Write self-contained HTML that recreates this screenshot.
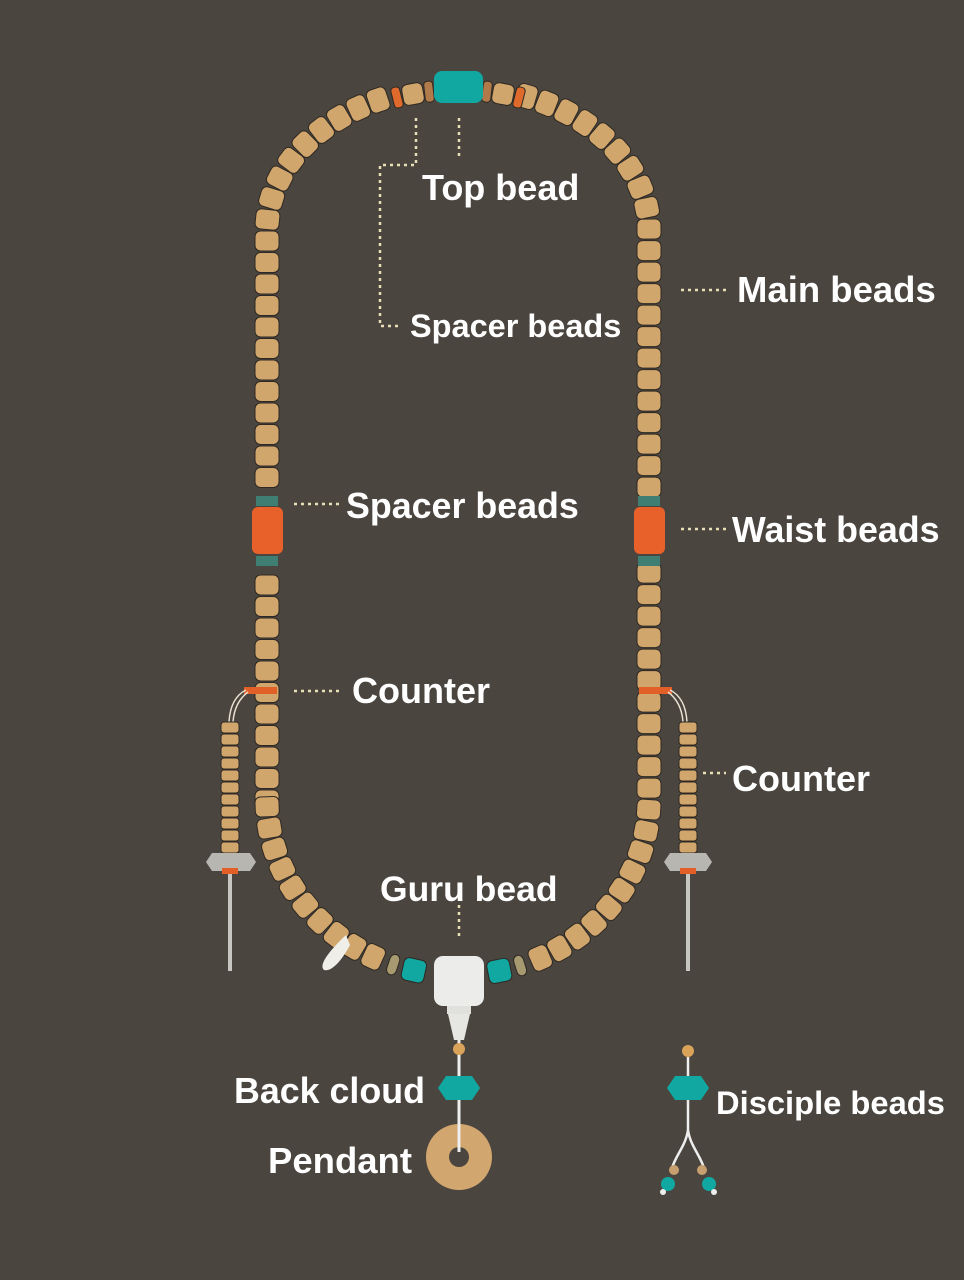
<!DOCTYPE html>
<html><head><meta charset="utf-8"><style>
html,body{margin:0;padding:0;background:#4b453f;}
svg{display:block}
text{font-family:"Liberation Sans",sans-serif;font-weight:bold;fill:#fff;}
</style></head><body>
<svg id="s" width="964" height="1280" viewBox="0 0 964 1280" xmlns="http://www.w3.org/2000/svg">
<rect width="964" height="1280" fill="#4b453f"/>
<path id="loop" d="M267,800 L267,230 A191,143 0 0 1 649,230 L649,800 A191,175 0 0 1 267,800 Z" fill="none" stroke="none"/>
<g id="beads"></g>
<!-- waist beads -->
<rect x="256" y="496" width="22" height="10" fill="#3f7f73"/>
<rect x="256" y="556" width="22" height="10" fill="#3f7f73"/>
<rect x="252" y="507" width="31" height="47" rx="6" fill="#e8602a"/>
<rect x="638" y="496" width="22" height="10" fill="#3f7f73"/>
<rect x="638" y="556" width="22" height="10" fill="#3f7f73"/>
<rect x="634" y="507" width="31" height="47" rx="6" fill="#e8602a"/>
<!-- counter bars -->
<rect x="244" y="687" width="33" height="7" fill="#e35f28"/>
<rect x="639" y="687" width="33" height="7" fill="#e35f28"/>
<!-- top -->
<rect x="434" y="71" width="49" height="32" rx="8" fill="#10a8a0"/>
<!-- counters -->
<g fill="none" stroke="#e8e0d0" stroke-width="1.5">
<path d="M246,690 C236,695 230,705 229,722"/><path d="M248,692 C240,698 234,708 233,722"/>
<path d="M670,690 C680,695 686,705 687,722"/><path d="M668,692 C676,698 682,708 683,722"/>
</g>
<g id="ctr"></g>
<g fill="#b8b6b0">
<path d="M206,862 L212,853 L250,853 L256,862 L250,871 L212,871 Z"/>
<path d="M664,862 L670,853 L706,853 L712,862 L706,871 L670,871 Z"/>
</g>
<rect x="222" y="868" width="16" height="6" fill="#e35f28"/>
<rect x="680" y="868" width="16" height="6" fill="#e35f28"/>
<rect x="228" y="874" width="4" height="97" fill="#c8c6c0"/>
<rect x="686" y="874" width="4" height="97" fill="#c8c6c0"/>
<!-- leaf -->
<path d="M346,935 C330,950 318,965 324,970 C332,972 342,960 350,945 Z" fill="#efeee8"/>
<!-- guru -->
<rect x="434" y="956" width="50" height="50" rx="9" fill="#ececea"/>
<rect x="447" y="1006" width="24" height="8" fill="#e0e0dc"/>
<path d="M448,1014 L470,1014 L464,1040 L454,1040 Z" fill="#e6e6e2"/>
<line x1="459" y1="1040" x2="459" y2="1160" stroke="#eee" stroke-width="3"/>
<circle cx="459" cy="1049" r="6" fill="#d9a35a"/>
<path d="M446,1076 L472,1076 L480,1088 L472,1100 L446,1100 L438,1088 Z" fill="#10a8a0"/>
<circle cx="459" cy="1157" r="33" fill="#d2a66f"/>
<circle cx="459" cy="1157" r="10" fill="#4b453f"/>
<line x1="459" y1="1100" x2="459" y2="1152" stroke="#eee" stroke-width="3"/>
<!-- disciple -->
<circle cx="688" cy="1051" r="6" fill="#d9a35a"/>
<line x1="688" y1="1057" x2="688" y2="1130" stroke="#eee" stroke-width="2.5"/>
<path d="M675,1076 L701,1076 L709,1088 L701,1100 L675,1100 L667,1088 Z" fill="#10a8a0"/>
<path d="M688,1130 C686,1145 676,1155 672,1168 M688,1130 C690,1145 700,1155 704,1168" stroke="#eee" stroke-width="2.5" fill="none"/>
<circle cx="674" cy="1170" r="5" fill="#c8a070"/><circle cx="702" cy="1170" r="5" fill="#c8a070"/>
<circle cx="668" cy="1184" r="7" fill="#10a8a0"/><circle cx="709" cy="1184" r="7" fill="#10a8a0"/>
<circle cx="663" cy="1192" r="3" fill="#eee"/><circle cx="714" cy="1192" r="3" fill="#eee"/>
<!-- leader lines -->
<g stroke="#e8dfb8" stroke-width="2.5" stroke-dasharray="3,4" fill="none">
<path d="M416,118 L416,165 L380,165 L380,326 L400,326"/>
<path d="M459,118 L459,160"/>
<path d="M681,290 L728,290"/>
<path d="M294,504 L340,504"/>
<path d="M681,529 L726,529"/>
<path d="M294,691 L342,691"/>
<path d="M703,773 L726,773"/>
<path d="M459,905 L459,940"/>
</g>
<text x="422" y="200" font-size="36">Top bead</text>
<text x="410" y="337" font-size="32.5">Spacer beads</text>
<text x="737" y="302" font-size="36.5">Main beads</text>
<text x="346" y="518" font-size="35.8">Spacer beads</text>
<text x="732" y="542" font-size="35.8">Waist beads</text>
<text x="352" y="703" font-size="36">Counter</text>
<text x="732" y="791" font-size="36">Counter</text>
<text x="380" y="901" font-size="35.5">Guru bead</text>
<text x="234" y="1103" font-size="35.8">Back cloud</text>
<text x="268" y="1173" font-size="36.5">Pendant</text>
<text x="716" y="1114" font-size="32.7">Disciple beads</text>
</svg>
<script>
var NS="http://www.w3.org/2000/svg";
var p=document.getElementById('loop'),g=document.getElementById('beads');
var L=p.getTotalLength();
function add(par,tag,a){var e=document.createElementNS(NS,tag);for(var k in a)e.setAttribute(k,a[k]);par.appendChild(e);return e;}
function bead(x,y,ang,w,h,fill){
 var gg=add(g,'g',{transform:'translate('+x+','+y+') rotate('+ang+')'});
 add(gg,'rect',{x:-w/2-1,y:-h/2-1,width:w+2,height:h+2,rx:Math.min(6,w/2),fill:'#2e2924'});
 add(gg,'rect',{x:-w/2,y:-h/2,width:w,height:h,rx:Math.min(5,w/2-1),fill:fill});
}
function topPt(dx){var s=dx>=0?1:-1;var a=Math.abs(dx);var y=230-143*Math.sqrt(1-(a/191)*(a/191));
 var ang=Math.atan2(143*a/191, 191*Math.sqrt(1-(a/191)*(a/191)))*180/Math.PI; return [458+dx,y,s*ang];}
var step=21.5;
for(var s=0;s<L;s+=step){
 var pt=p.getPointAtLength(s),p2=p.getPointAtLength(Math.min(L,s+1));
 var x=pt.x,y=pt.y,dx=Math.abs(x-458);
 if(y<130&&dx<68)continue;
 if(y>490&&y<572)continue;
 if(y>940&&dx<28)continue;
 var ang=Math.atan2(p2.y-pt.y,p2.x-pt.x)*180/Math.PI+90;
 var fill="#d1a66c",w=23,h=19;
 if(y>930){
  if(dx>40&&dx<62){fill="#10a8a0";w=22;h=22;}
  else if(dx>28&&dx<=40){fill="#a89a70";w=20;h=9;}
  else if(dx>=62&&dx<72){fill="#a89a70";w=20;h=9;}
 }
 bead(x,y,ang,w,h,fill);
}
// manual top pieces
[[-29,'#b07a4a'],[29,'#b07a4a'],[-61,'#e0692c'],[61,'#e0692c']].forEach(function(a){var t=topPt(a[0]);bead(t[0],t[1]+3,t[2],8,20,a[1]);});
[[-45],[45]].forEach(function(a){var t=topPt(a[0]);bead(t[0],t[1]+3,t[2],20,20,'#d1a66c');});
var c=document.getElementById('ctr');
[230,688].forEach(function(cx){
 for(var y=722;y<852;y+=12){add(c,'rect',{x:cx-9,y:y,width:18,height:11,rx:3,fill:'#d1a66c',stroke:'#2e2924','stroke-width':1});}
});
</script>
</body></html>
